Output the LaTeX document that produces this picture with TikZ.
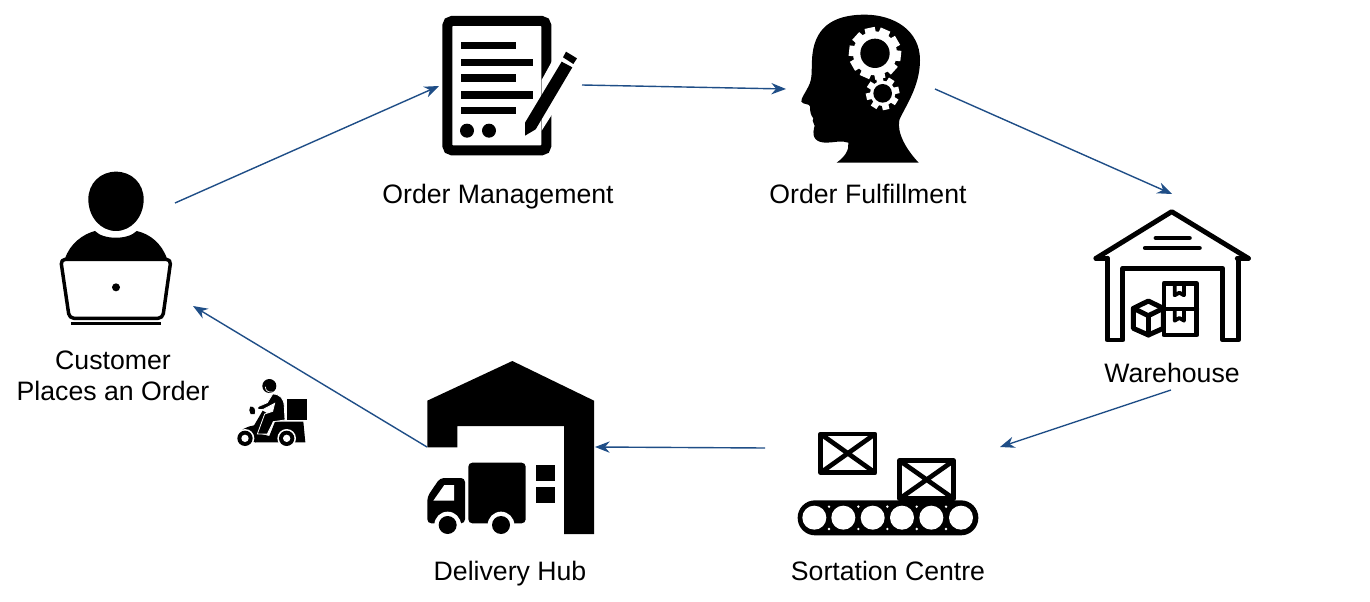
\documentclass[tikz,border=0pt]{standalone}
\usepackage{fontspec}
\setmainfont{Liberation Sans}
\usetikzlibrary{arrows.meta}
\definecolor{flow}{HTML}{1F4E87}
\tikzset{
  flowline/.style={draw=flow,line width=1.05pt,-{Stealth[length=11pt,width=8.5pt]}},
  lbl/.style={font=\fontsize{20}{23.25}\selectfont,align=center,text=black,inner sep=0pt,anchor=base},
  zoomed/.style 2 args={shift={(#1,#2)},x=.25pt,y=-.25pt}
}
\newcommand{\gearicon}[5]{% cx cy outer ring teeth
  \begin{scope}[shift={(#1,#2)}]
    \fill[white] (0,0) circle (#3-12);
    \foreach \k in {1,...,#5}{
      \begin{scope}[rotate=\k*360/#5+12]
        \fill[white] (-#3*0.2,0) rectangle (#3*0.2,-#3);
      \end{scope}}
    \fill[black] (0,0) circle (#4);
  \end{scope}}
\begin{document}
\begin{tikzpicture}[x=.75pt,y=-.75pt]
\useasboundingbox[fill=white] (0,0) rectangle (1370,602);

% Customer
\begin{scope}[zoomed={20}{160}]
  \fill (288,35) .. controls (335,35) and (371,70) .. (371,118)
     .. controls (371,170) and (335,213) .. (288,213)
     .. controls (241,213) and (205,170) .. (205,118)
     .. controls (205,70) and (241,35) .. (288,35) -- cycle;
  \fill (135,296) .. controls (150,250) and (190,222) .. (225,213)
     .. controls (250,240) and (325,240) .. (350,213)
     .. controls (390,222) and (425,250) .. (441,296) -- cycle;
  \draw[fill=white,line width=2.6pt,line join=round,rounded corners=3.5pt]
     (122,298) -- (453,298) -- (428,475) -- (148,475) -- cycle;
  \fill (288,382) circle (12);
  \fill (153,485) rectangle (422,495);
\end{scope}

% Order document
\begin{scope}[zoomed={420}{0}]
  \draw[line width=7.5pt,rounded corners=3.5pt] (82,63) rectangle (379,451);
  \fill (122,125) rectangle (289,147);
  \fill (122,176) rectangle (340,198);
  \fill (122,223) rectangle (289,245);
  \fill (122,274) rectangle (340,296);
  \fill (122,321) rectangle (289,343);
  \fill (141,392) circle (21);
  \fill (207,392) circle (21);
  \fill[white] (365,240) -- (398,180) -- (398,340) -- (365,392) -- cycle;
  \fill (315,368) -- (425,185) -- (457,202) -- (347,388) -- (315,407) -- cycle;
  \fill (438,155) -- (471,175) -- (460,192) -- (429,172) -- cycle;
\end{scope}

% Head with gears
\begin{scope}[zoomed={790}{10}]
  \fill (386,458) .. controls (350,420) and (320,370) .. (328,330)
     .. controls (345,290) and (390,230) .. (390,150)
     .. controls (390,60) and (310,14) .. (225,14)
     .. controls (125,14) and (70,55) .. (66,150)
     .. controls (64,185) and (68,205) .. (55,230)
     .. controls (45,250) and (33,265) .. (34,275)
     .. controls (40,285) and (60,280) .. (60,290)
     .. controls (60,305) and (62,315) .. (70,325)
     .. controls (62,335) and (80,345) .. (72,355)
     .. controls (65,385) and (80,398) .. (110,398)
     .. controls (130,398) and (155,390) .. (175,398)
     .. controls (178,420) and (165,440) .. (140,458) -- cycle;
  \gearicon{255}{130}{78}{44}{10}
  \gearicon{278}{250}{50}{28}{8}
\end{scope}

% Warehouse
\begin{scope}[zoomed={1080}{200},line width=3.7pt,line cap=round,line join=round]
  \draw (48,175) -- (275,35) -- (505,175);
  \draw (48,175) -- (82,175);
  \draw (472,175) -- (505,175);
  \draw (82,175) -- (82,420) -- (128,420) -- (128,205) -- (428,205) -- (428,420) -- (475,420) -- (475,175);
  \draw (228,114) -- (328,114);
  \draw (196,144) -- (358,144);
  \draw (252,250) rectangle (350,405);
  \draw (252,327) -- (350,327);
  \draw[line width=2.8pt] (284,255) -- (284,286) -- (298,278) -- (312,286) -- (312,255);
  \draw[line width=2.8pt] (284,332) -- (284,362) -- (298,354) -- (312,362) -- (312,332);
  \draw[fill=white] (205,303) -- (250,325) -- (250,385) -- (205,405) -- (160,385) -- (160,325) -- cycle;
  \draw (160,325) -- (205,347) -- (250,325);
  \draw (205,347) -- (205,405);
\end{scope}

% Sortation conveyor
\begin{scope}[zoomed={780}{420}]
  \begin{scope}
    \clip (115,35) rectangle (292,165);
    \draw[line width=3.5pt] (122,42) -- (285,158) (285,42) -- (122,158);
  \end{scope}
  \draw[line width=3.6pt,line join=round] (122,42) rectangle (285,158);
  \begin{scope}
    \clip (352,115) rectangle (528,243);
    \draw[line width=3.5pt] (359,122) -- (521,236) (521,122) -- (359,236);
  \end{scope}
  \draw[line width=3.6pt,line join=round] (359,122) rectangle (521,236);
  \fill[rounded corners=13pt] (53,241) rectangle (595,346);
  \foreach \cx in {103,190,278,366,454,543}{\fill[white] (\cx,293) circle (36);}
  \foreach \cx in {147,235,322,410,498}{
    \fill[white] (\cx,260) circle (4);
    \fill[white] (\cx,327) circle (4);}
\end{scope}

% Delivery hub
\begin{scope}[zoomed={415}{350}]
  \fill (37,152) -- (292,33) -- (537,152) -- (537,552) -- (447,552) -- (447,228) -- (127,228) -- (127,292) -- (37,292) -- cycle;
  \fill[rounded corners=3pt] (160,338) rectangle (332,520);
  \fill (363,346) rectangle (419,393);
  \fill (363,411) rectangle (419,458);
  \fill[rounded corners=3pt] (37,520) -- (37,440) -- (75,384) -- (150,384) -- (150,520) -- cycle;
  \fill[white] (55,452) -- (88,405) -- (117,405) -- (117,452) -- cycle;
  \fill[white] (98,525) circle (40);
  \fill[white] (258,525) circle (40);
  \fill (98,525) circle (27);
  \fill (258,525) circle (27);
\end{scope}

% Scooter rider
\begin{scope}[zoomed={230}{370}]
  \fill (170,88) rectangle (232,150);
  \fill (61,110) .. controls (72,108) and (78,118) .. (74,132) -- (62,132) .. controls (58,125) and (55,115) .. (61,110) -- cycle;
  \fill (98,122) -- (115,132) -- (92,192) -- (118,198) -- (135,155) -- (220,155) -- (226,217) -- (75,217) -- (70,170) -- cycle;
  \fill (22,198) .. controls (30,178) and (50,170) .. (72,166) -- (78,217) -- (22,210) -- cycle;
  \fill[draw=white,line width=.6pt] (128,72) .. controls (150,72) and (162,85) .. (163,110) -- (165,150) -- (130,155) -- (112,192) -- (82,192) -- (104,132) -- (128,124) -- (134,100) -- (100,118) -- (84,119) -- (84,110) -- (112,98) -- cycle;
  \fill (118,48) circle (21);
  \draw[white,line width=.5pt] (106,50) .. controls (106,62) and (115,68) .. (128,66);
  \fill[white] (45,205) circle (28);
  \fill[white] (170,205) circle (28);
  \fill (45,205) circle (23);
  \fill (170,205) circle (23);
  \fill[white] (45,205) circle (11);
  \fill[white] (170,205) circle (11);
\end{scope}

% Labels
\node[lbl] (customer) at (113,400.5) {Customer\\Places an Order};
\node[lbl] (mgmt) at (498,203.7) {Order Management};
\node[lbl] (fulfil) at (868,203.7) {Order Fulfillment};
\node[lbl] (ware) at (1172,382.7) {Warehouse};
\node[lbl] (sort) at (888,580.7) {Sortation Centre};
\node[lbl] (hub) at (510,580.7) {Delivery Hub};

% Connector ends
\coordinate (a1) at (175,203); \coordinate (a2) at (439,86);
\coordinate (b1) at (582,85);  \coordinate (b2) at (786,89);
\coordinate (c1) at (935,89);  \coordinate (c2) at (1172,194);
\coordinate (d1) at (1171,390);\coordinate (d2) at (1000,447);
\coordinate (e1) at (765,448); \coordinate (e2) at (595,447);
\coordinate (f1) at (427,447); \coordinate (f2) at (193,306);
\draw[flowline] (a1) -- (a2);
\draw[flowline] (b1) -- (b2);
\draw[flowline] (c1) -- (c2);
\draw[flowline] (d1) -- (d2);
\draw[flowline] (e1) -- (e2);
\draw[flowline] (f1) -- (f2);
\end{tikzpicture}
\end{document}
